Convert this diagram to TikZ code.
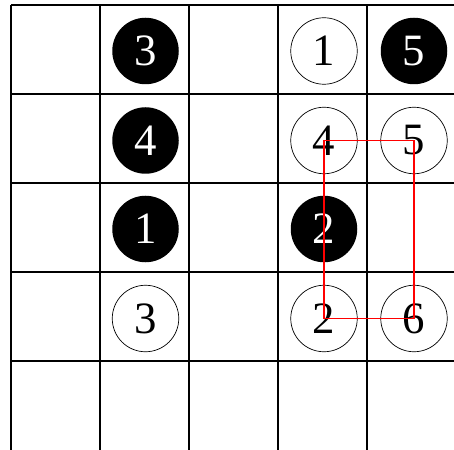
\documentclass[tikz,border=0pt]{standalone}
\usepackage{fontspec}
\setmainfont{Liberation Serif}
\begin{document}
\begin{tikzpicture}[x=1bp, y=-1bp,
    every node/.style={circle, minimum size=66.5bp, inner sep=0pt, font=\fontsize{45}{45}\selectfont},
    blackstone/.style={fill=black, text=white},
    whitestone/.style={draw, line width=0.7bp, fill=white},
    boardline/.style={line width=1.3bp}]
    \useasboundingbox (0,0) rectangle (454,450);
    % board
    \foreach \x in {11,100,189,278,367}
        \draw[boardline] (\x,5) -- (\x,450);
    \foreach \y in {5,94,183,272,361}
        \draw[boardline] (11,\y) -- (454,\y);

    \node[blackstone] (black3) at (145.5,51) {3};
    \node[blackstone] (black4) at (145.5,140.5) {4};
    \node[blackstone] (black1) at (145.5,229) {1};
    \node[whitestone] (white3) at (145.5,318.5) {3};
    \node[whitestone] (white1) at (324,51) {1};
    \node[blackstone] (black5) at (414,51) {5};
    \node[whitestone] (white4) at (324,140.5) {4};
    \node[whitestone] (white5) at (414,140.5) {5};
    \node[blackstone] (black2) at (324,229) {2};
    \node[whitestone] (white2) at (324,318.5) {2};
    \node[whitestone] (white6) at (414,318.5) {6};

    \draw[red, line width=1.2bp] (white4.center) -- (white5.center) -- (white6.center) -- (white2.center) -- cycle;
\end{tikzpicture}
\end{document}
